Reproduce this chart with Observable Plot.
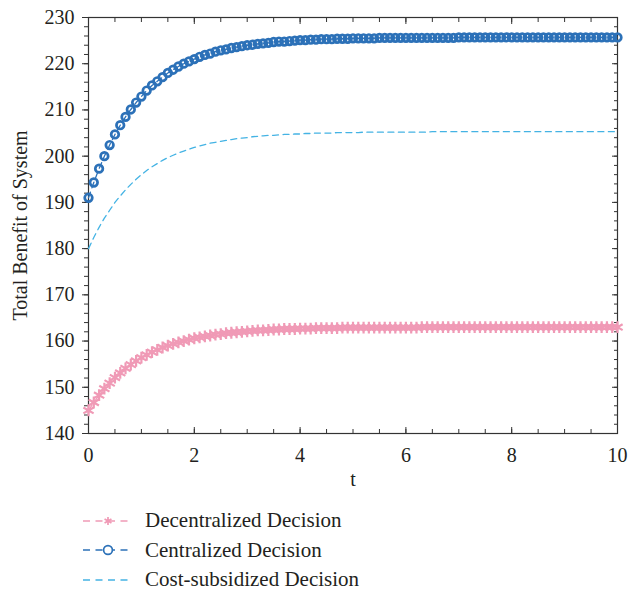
<!DOCTYPE html>
<html>
<head>
<meta charset="utf-8">
<script src="https://cdn.jsdelivr.net/npm/d3@7"></script>
<script src="https://cdn.jsdelivr.net/npm/@observablehq/plot@0.6"></script>
<style>
  body { margin: 0; background: #fff; font-family: "Liberation Serif", "DejaVu Serif", serif; color: #231f20; }
  #legend { padding-left: 83px; padding-top: 13px; }
  .row { display: flex; align-items: center; height: 29.5px; font-size: 21px; }
  .row svg { display: block; margin-right: 12px; }
</style>
</head>
<body>
<div id="chart"></div>
<div id="legend"></div>
<script>
// time step 0.1 from 0 to 10
const tStep = 0.1;
const seriesNames = ["Decentralized Decision", "Centralized Decision", "Cost-subsidized Decision"];
const decentralized = [
145.0,146.7,148.3,149.7,150.9,152.1,153.1,154.1,154.9,155.7,
156.4,157.0,157.6,158.1,158.6,159.0,159.4,159.7,160.0,160.3,
160.6,160.8,161.0,161.2,161.4,161.5,161.7,161.8,161.9,162.0,
162.1,162.2,162.3,162.3,162.4,162.5,162.5,162.6,162.6,162.6,
162.7,162.7,162.7,162.8,162.8,162.8,162.8,162.8,162.9,162.9,
162.9,162.9,162.9,162.9,162.9,162.9,162.9,162.9,162.9,162.9,
162.9,162.9,162.9,163.0,163.0,163.0,163.0,163.0,163.0,163.0,
163.0,163.0,163.0,163.0,163.0,163.0,163.0,163.0,163.0,163.0,
163.0,163.0,163.0,163.0,163.0,163.0,163.0,163.0,163.0,163.0,
163.0,163.0,163.0,163.0,163.0,163.0,163.0,163.0,163.0,163.0,
163.0];
const centralized = [
191.0,194.3,197.3,200.0,202.4,204.7,206.7,208.5,210.1,211.6,
212.9,214.2,215.3,216.2,217.1,218.0,218.7,219.4,220.0,220.5,
221.0,221.5,221.9,222.2,222.6,222.9,223.1,223.4,223.6,223.8,
224.0,224.1,224.3,224.4,224.5,224.7,224.8,224.8,224.9,225.0,
225.1,225.1,225.2,225.2,225.3,225.3,225.3,225.4,225.4,225.4,
225.5,225.5,225.5,225.5,225.5,225.6,225.6,225.6,225.6,225.6,
225.6,225.6,225.6,225.6,225.6,225.6,225.6,225.6,225.6,225.6,
225.7,225.7,225.7,225.7,225.7,225.7,225.7,225.7,225.7,225.7,
225.7,225.7,225.7,225.7,225.7,225.7,225.7,225.7,225.7,225.7,
225.7,225.7,225.7,225.7,225.7,225.7,225.7,225.7,225.7,225.7,
225.7];
const costSubsidized = [
180.0,182.4,184.6,186.6,188.3,190.0,191.4,192.7,193.9,195.0,
196.0,196.9,197.7,198.4,199.1,199.7,200.2,200.7,201.1,201.5,
201.9,202.2,202.5,202.8,203.0,203.2,203.4,203.6,203.8,203.9,
204.0,204.2,204.3,204.4,204.5,204.5,204.6,204.7,204.7,204.8,
204.8,204.9,204.9,205.0,205.0,205.0,205.0,205.1,205.1,205.1,
205.1,205.1,205.2,205.2,205.2,205.2,205.2,205.2,205.2,205.2,
205.2,205.2,205.2,205.2,205.2,205.3,205.3,205.3,205.3,205.3,
205.3,205.3,205.3,205.3,205.3,205.3,205.3,205.3,205.3,205.3,
205.3,205.3,205.3,205.3,205.3,205.3,205.3,205.3,205.3,205.3,
205.3,205.3,205.3,205.3,205.3,205.3,205.3,205.3,205.3,205.3,
205.3];
const xTicks = [0, 2, 4, 6, 8, 10];
const yTicks = [140, 150, 160, 170, 180, 190, 200, 210, 220, 230];
const xMinor = d3.range(0, 10.001, 0.5);
const yMinor = d3.range(140, 230.001, 2);
const colors = { dec: "#f09ab6", cen: "#2c71b8", cost: "#44b3e4" };

const toRows = arr => arr.map((v, i) => ({ t: +(i * tStep).toFixed(2), v }));
const decRows = toRows(decentralized);
const cenRows = toRows(centralized);
const costRows = toRows(costSubsidized);

const axisColor = "#333";
const font = "Liberation Serif";
const blank = () => "";

const chart = Plot.plot({
  width: 639,
  height: 493,
  marginLeft: 88,
  marginRight: 22,
  marginTop: 17,
  marginBottom: 60,
  style: { fontFamily: font, color: "#231f20", background: "#fff" },
  x: { domain: [0, 10] },
  y: { domain: [140, 230] },
  marks: [
    // labels
    Plot.axisX({ ticks: xTicks, tickSize: 0, tickPadding: 14, fontSize: 20, label: "t", labelAnchor: "center", labelArrow: "none", labelOffset: 52 }),
    Plot.axisY({ ticks: yTicks, tickSize: 0, tickPadding: 14, fontSize: 20, label: "Total Benefit of System", labelAnchor: "center", labelArrow: "none", labelOffset: 76 }),
    // tick marks bottom (inward)
    Plot.axisX({ ticks: xTicks, tickSize: -6, tickFormat: blank, label: null, stroke: axisColor }),
    Plot.axisX({ ticks: xMinor, tickSize: -4, tickFormat: blank, label: null, stroke: axisColor }),
    // top (inward)
    Plot.axisX({ anchor: "top", ticks: xTicks, tickSize: -6, tickFormat: blank, label: null, stroke: axisColor }),
    Plot.axisX({ anchor: "top", ticks: xMinor, tickSize: -4, tickFormat: blank, label: null, stroke: axisColor }),
    // left (outward)
    Plot.axisY({ ticks: yTicks, tickSize: 6, tickFormat: blank, label: null, stroke: axisColor }),
    Plot.axisY({ ticks: yMinor, tickSize: 4, tickFormat: blank, label: null, stroke: axisColor }),
    // right (inward)
    Plot.axisY({ anchor: "right", ticks: yTicks, tickSize: -6, tickFormat: blank, label: null, stroke: axisColor }),
    Plot.axisY({ anchor: "right", ticks: yMinor, tickSize: -4, tickFormat: blank, label: null, stroke: axisColor }),
    Plot.frame({ stroke: axisColor, strokeWidth: 1.2 }),
    // series
    Plot.line(costRows, { x: "t", y: "v", stroke: colors.cost, strokeWidth: 1.3, strokeDasharray: "6,4.5" }),
    Plot.line(decRows, { x: "t", y: "v", stroke: colors.dec, strokeWidth: 1.3, strokeDasharray: "6,4.5" }),
    Plot.dot(decRows, { x: "t", y: "v", symbol: "asterisk", r: 5.6, stroke: colors.dec, strokeWidth: 2.2 }),
    Plot.line(cenRows, { x: "t", y: "v", stroke: colors.cen, strokeWidth: 1.3, strokeDasharray: "6,4.5" }),
    Plot.dot(cenRows, { x: "t", y: "v", symbol: "circle", r: 3.8, stroke: colors.cen, fill: "none", strokeWidth: 2.7 })
  ]
});
document.getElementById("chart").appendChild(chart);

// legend
const legendItems = [
  { name: seriesNames[0], color: colors.dec, symbol: d3.symbolAsterisk },
  { name: seriesNames[1], color: colors.cen, symbol: d3.symbolCircle },
  { name: seriesNames[2], color: colors.cost, symbol: null }
];
const legend = d3.select("#legend");
for (const item of legendItems) {
  const row = legend.append("div").attr("class", "row");
  const svg = row.append("svg").attr("width", 50).attr("height", 16);
  svg.append("line").attr("x1", 0).attr("x2", 50).attr("y1", 8).attr("y2", 8)
    .attr("stroke", item.color).attr("stroke-width", 1.5).attr("stroke-dasharray", "7,5.5");
  if (item.symbol) {
    const size = item.symbol === d3.symbolCircle ? Math.PI * 4.4 * 4.4 : 4.2 * 4.2 * 2.5;
    svg.append("path").attr("transform", "translate(25,8)")
      .attr("d", d3.symbol(item.symbol, size)())
      .attr("fill", item.symbol === d3.symbolCircle ? "#fff" : "none")
      .attr("stroke", item.color).attr("stroke-width", 1.7);
  }
  row.append("span").text(item.name);
}
</script>
</body>
</html>
